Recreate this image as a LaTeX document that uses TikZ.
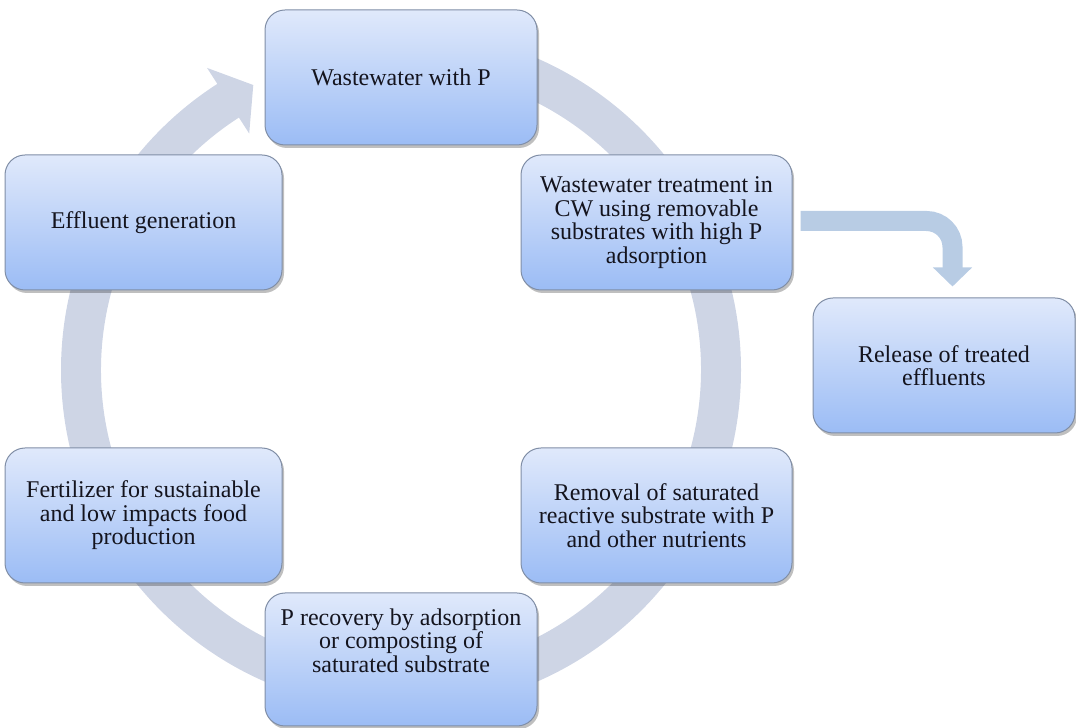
\documentclass[tikz,border=0pt]{standalone}
\usepackage{fontspec}
\setmainfont{Liberation Serif}
\newfontfamily\boxfont{LiberationSerif}[Extension=.ttf, UprightFont=*-Regular, BoldFont=*-Bold]
\usetikzlibrary{shadows,calc,arrows.meta}
\definecolor{ringc}{RGB}{206,213,229}
\definecolor{bentc}{RGB}{184,204,228}
\definecolor{boxtop}{RGB}{224,233,251}
\definecolor{boxbot}{RGB}{155,188,245}
\definecolor{boxline}{RGB}{128,142,166}
\definecolor{txt}{RGB}{20,20,30}
\begin{document}
\begin{tikzpicture}[x=1pt,y=1pt,
  stepbox/.style={rectangle, rounded corners=20pt, draw=boxline, line width=1pt,
    top color=boxtop, bottom color=boxbot,
    minimum width=272pt, minimum height=135pt, inner sep=0pt,
    text=txt, font=\boxfont\fontsize{24}{23.5}\selectfont, align=center,
    drop shadow={shadow xshift=2pt, shadow yshift=-3pt, opacity=0.25, fill=black}},
  bentarrow/.style={draw=bentc, line width=20pt, rounded corners=26pt,
    -{Triangle[width=38pt,length=19pt]}},
  ring/.style={fill=ringc}
]
\useasboundingbox (0,0) rectangle (1076,728);
\coordinate (C) at (401,358);
% circular arrow
\path[ring] ($(C)+(90:340pt)$) arc[start angle=90, end angle=-237.3, radius=340pt]
  -- ($(C)+(-237.3:359pt)$) -- ($(C)+(-242.6:321pt)$) -- ($(C)+(-237.3:281pt)$)
  -- ($(C)+(-237.3:300pt)$) arc[start angle=-237.3, end angle=90, radius=300pt] -- cycle;
% boxes
\node[stepbox] (b1) at (401,650.5) {Wastewater with P};
\node[stepbox, minimum width=271pt] (b2) at (656.5,505.5) {Wastewater treatment in\\CW using removable\\substrates with high P\\adsorption};
\node[stepbox, minimum width=262pt] (b3) at (944,362.5) {Release of treated\\effluents};
\node[stepbox, minimum width=271pt] (b4) at (656.5,212.5) {Removal of saturated\\reactive substrate with P\\and other nutrients};
\node[stepbox, minimum height=133pt, text depth=38pt] (b5) at (401,68.5) {P recovery by adsorption\\or composting of\\saturated substrate};
\node[stepbox, minimum width=277pt] (b6) at (143.5,212.5) {Fertilizer for sustainable\\and low impacts food\\production};
\node[stepbox, minimum width=277pt] (b7) at (143.5,505.5) {Effluent generation};
% bent arrow
\draw[bentarrow] ($(b2.east)+(8,1.5)$) -| ($(b3.north)+(8.5,11)$);
\end{tikzpicture}
\end{document}
